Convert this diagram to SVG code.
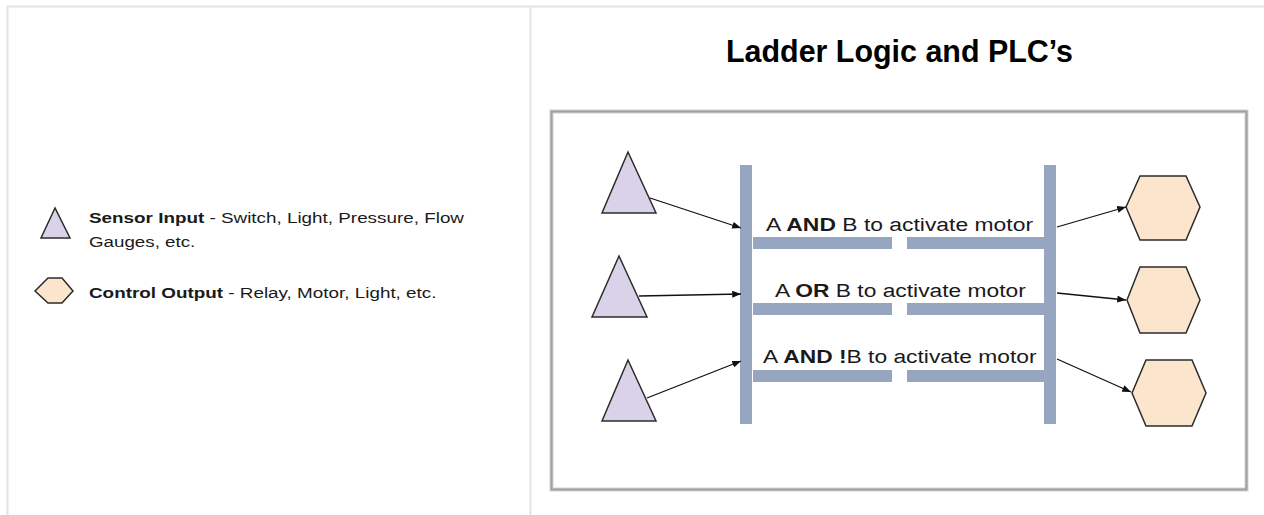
<svg xmlns="http://www.w3.org/2000/svg" width="1264" height="515" viewBox="0 0 1264 515">
  <style>
    .frame { fill: none; stroke: #e3e3e3; stroke-width: 2; }
    .sensor { fill: #d9d2e9; stroke: #2b2b2b; stroke-width: 1.5; stroke-linejoin: miter; }
    .output { fill: #fce5cd; stroke: #2b2b2b; stroke-width: 1.5; stroke-linejoin: miter; }
    .rail { fill: #96a6c0; }
    .wire { fill: none; stroke: #111; stroke-width: 1.3; marker-end: url(#arrow); }
    .label { font-family: "Liberation Sans", Arial, sans-serif; font-size: 19px; fill: #1a1a1a; }
    .legend { font-family: "Liberation Sans", Arial, sans-serif; font-size: 15px; fill: #1a1a1a; }
    .b { font-weight: bold; }
    .title { font-family: "Liberation Sans", Arial, sans-serif; font-size: 32px; font-weight: bold; fill: #000; }
  </style>
  <defs>
    <marker id="arrow" viewBox="0 0 10 8" refX="10" refY="4" markerWidth="9" markerHeight="7" markerUnits="userSpaceOnUse" orient="auto">
      <path d="M0,0 L10,4 L0,8 Z" fill="#111"/>
    </marker>
  </defs>

  <rect width="1264" height="515" fill="#fff"/>

  <!-- page frame and column divider -->
  <g id="page">
    <path class="frame" d="M7.5,520 V6.5 H1270"/>
    <path class="frame" d="M530.5,6.5 V520"/>
  </g>

  <!-- legend (text set in a horizontally widened face) -->
  <g id="legend">
    <g id="legend-sensor">
      <polygon class="sensor" points="55,208 41,238 70,238"/>
      <text class="legend" transform="translate(89,223) scale(1.25,1)" textLength="300" lengthAdjust="spacingAndGlyphs"><tspan class="b">Sensor Input</tspan> - Switch, Light, Pressure, Flow</text>
      <text class="legend" transform="translate(89,247) scale(1.25,1)" textLength="85" lengthAdjust="spacingAndGlyphs">Gauges, etc.</text>
    </g>
    <g id="legend-output">
      <polygon class="output" points="35,291 48,278 62,278 73,291 62,303 48,303"/>
      <text class="legend" transform="translate(89,298) scale(1.25,1)" textLength="278" lengthAdjust="spacingAndGlyphs"><tspan class="b">Control Output</tspan> - Relay, Motor, Light, etc.</text>
    </g>
  </g>

  <!-- title -->
  <text id="title" class="title" x="726" y="62" textLength="347" lengthAdjust="spacingAndGlyphs">Ladder Logic and PLC’s</text>

  <!-- ladder panel -->
  <g id="panel">
    <rect x="551.5" y="111.5" width="695" height="378" fill="#fff" stroke="#d2d2d2" stroke-width="4"/>
    <rect x="551.5" y="111.5" width="695" height="378" fill="none" stroke="#a0a0a0" stroke-width="2"/>
  </g>

  <!-- power rails -->
  <g id="rails">
    <rect id="rail-left" class="rail" x="740" y="165" width="12" height="259"/>
    <rect id="rail-right" class="rail" x="1044" y="165" width="12" height="259"/>
  </g>

  <!-- rungs, each split by a contact gap -->
  <g id="rungs">
    <g id="rung-and">
      <rect class="rail" x="753" y="237" width="139" height="12"/>
      <rect class="rail" x="907" y="237" width="137" height="12"/>
      <text class="label" transform="translate(766,231) scale(1.2,1)" textLength="222.5" lengthAdjust="spacingAndGlyphs">A <tspan class="b">AND</tspan> B to activate motor</text>
    </g>
    <g id="rung-or">
      <rect class="rail" x="753" y="303" width="139" height="12"/>
      <rect class="rail" x="907" y="303" width="137" height="12"/>
      <text class="label" transform="translate(775,297) scale(1.2,1)" textLength="209" lengthAdjust="spacingAndGlyphs">A <tspan class="b">OR</tspan> B to activate motor</text>
    </g>
    <g id="rung-and-not">
      <rect class="rail" x="753" y="370" width="139" height="12"/>
      <rect class="rail" x="907" y="370" width="137" height="12"/>
      <text class="label" transform="translate(763,363) scale(1.2,1)" textLength="228" lengthAdjust="spacingAndGlyphs">A <tspan class="b">AND !</tspan>B to activate motor</text>
    </g>
  </g>

  <!-- sensor inputs -->
  <g id="sensor-1"><polygon class="sensor" points="628,152 602,213 656,213"/></g>
  <g id="sensor-2"><polygon class="sensor" points="619,256 592,317 647,317"/></g>
  <g id="sensor-3"><polygon class="sensor" points="628,360 602,421 656,421"/></g>

  <!-- control outputs -->
  <g id="output-1"><polygon class="output" points="1126,207 1140,176 1186,176 1200,207 1186,240 1140,240"/></g>
  <g id="output-2"><polygon class="output" points="1127,300 1140,267 1186,267 1200,300 1186,333 1140,333"/></g>
  <g id="output-3"><polygon class="output" points="1132,393 1146,360 1192,360 1206,393 1192,426 1146,426"/></g>

  <!-- connectors -->
  <g id="connectors">
    <line class="wire" x1="650" y1="198" x2="741" y2="228"/>
    <line class="wire" x1="639" y1="296" x2="741" y2="294"/>
    <line class="wire" x1="647" y1="398" x2="741" y2="361"/>
    <line class="wire" x1="1057" y1="227" x2="1126" y2="207"/>
    <line class="wire" x1="1057" y1="293" x2="1126" y2="300"/>
    <line class="wire" x1="1057" y1="359" x2="1131" y2="392"/>
  </g>
</svg>
